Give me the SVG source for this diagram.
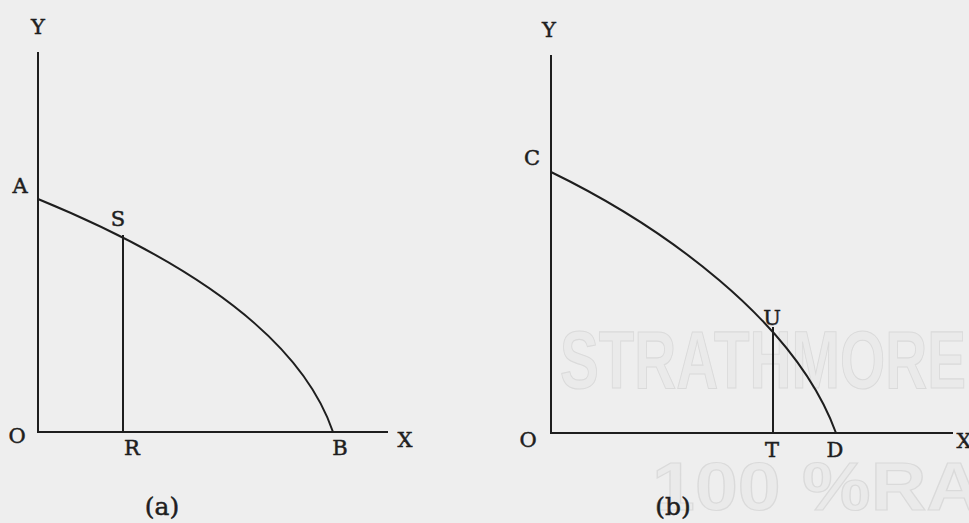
<svg xmlns="http://www.w3.org/2000/svg" width="969" height="523" viewBox="0 0 969 523">
  <style>
    .ln { stroke: #1e1e1e; stroke-width: 2; fill: none; stroke-linecap: butt; }
    .lb { font-family: "DejaVu Serif", "Liberation Serif", serif; font-size: 21px; fill: #1e1e1e; stroke: #1e1e1e; stroke-width: 0.5; text-anchor: middle; }
    .cap { font-size: 25px; }
    .wm { font-family: "Liberation Sans", Arial, sans-serif; font-weight: bold; fill: #eaeaea; stroke: #dadada; stroke-width: 1.2; }
  </style>
  <rect x="0" y="0" width="969" height="523" fill="#eeeeee"/>
  <g id="watermark">
    <text class="wm" x="560" y="388" font-size="82" textLength="406" lengthAdjust="spacingAndGlyphs">STRATHMORE</text>
    <text class="wm" x="652" y="510" font-size="68" textLength="330" lengthAdjust="spacingAndGlyphs">100 %RA</text>
  </g>
  <g id="panel-a">
    <g id="axes-a">
      <line class="ln" x1="38" y1="52" x2="38" y2="433"/>
      <line class="ln" x1="37" y1="432" x2="388" y2="432"/>
    </g>
    <path id="curve-AB" class="ln" d="M38,199 C150,245 295,320 333,432"/>
    <line id="line-SR" class="ln" x1="123" y1="235" x2="123" y2="432"/>
    <text class="lb" x="38" y="34">Y</text>
    <text class="lb" x="20" y="193">A</text>
    <text class="lb" x="118" y="226">S</text>
    <text class="lb" x="17" y="443">O</text>
    <text class="lb" x="132" y="455">R</text>
    <text class="lb" x="340" y="455">B</text>
    <text class="lb" x="405" y="447">X</text>
    <text class="lb cap" x="162" y="515">(a)</text>
  </g>
  <g id="panel-b">
    <g id="axes-b">
      <line class="ln" x1="551" y1="55" x2="551" y2="434"/>
      <line class="ln" x1="550" y1="433" x2="953" y2="433"/>
    </g>
    <path id="curve-CD" class="ln" d="M551,172 C660,225 795,320 836,433"/>
    <line id="line-UT" class="ln" x1="773" y1="327" x2="773" y2="433"/>
    <text class="lb" x="549" y="37">Y</text>
    <text class="lb" x="532" y="165">C</text>
    <text class="lb" x="772" y="325">U</text>
    <text class="lb" x="528" y="447">O</text>
    <text class="lb" x="772" y="457">T</text>
    <text class="lb" x="835" y="457">D</text>
    <text class="lb" x="964" y="448">X</text>
    <text class="lb cap" x="673" y="515">(b)</text>
  </g>
</svg>
